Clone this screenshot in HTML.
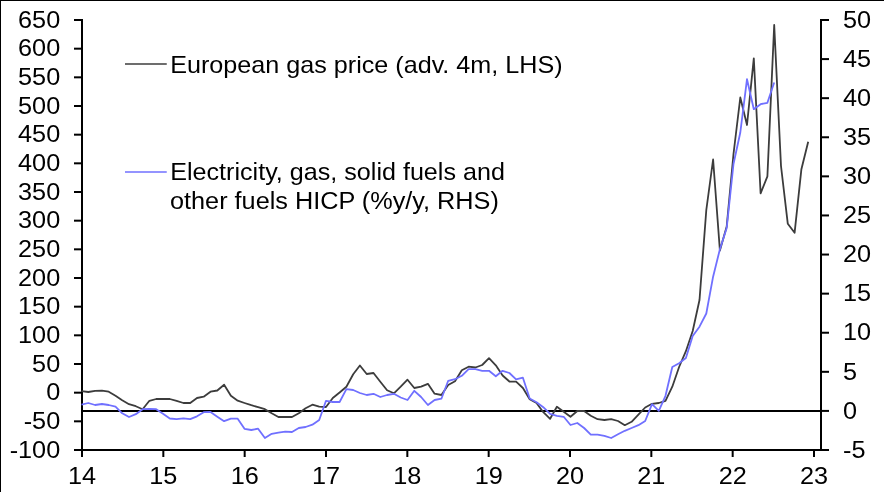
<!DOCTYPE html>
<html><head><meta charset="utf-8"><title>chart</title>
<style>
html,body{margin:0;padding:0;background:#fff;}
body{width:884px;height:492px;overflow:hidden;position:relative;}
svg{position:absolute;left:0;top:0;display:block;}
text{font-family:"Liberation Sans",sans-serif;font-size:24px;fill:#000;}
svg{will-change:transform;}
</style></head><body>
<svg width="884" height="492" viewBox="0 0 884 492">
<rect x="0" y="0" width="884" height="492" fill="#fff"/>
<rect x="0" y="0" width="884" height="1" fill="#000"/>
<rect x="0" y="0" width="1" height="492" fill="#000"/>

<g fill="#000">
<rect x="81" y="19" width="2" height="432"/>
<rect x="820" y="19" width="2" height="432"/>
<rect x="74" y="449" width="755" height="2"/>
<rect x="82" y="410" width="739" height="2"/>
<rect x="74" y="19.00" width="8" height="2"/>
<rect x="74" y="47.67" width="8" height="2"/>
<rect x="74" y="76.33" width="8" height="2"/>
<rect x="74" y="105.00" width="8" height="2"/>
<rect x="74" y="133.67" width="8" height="2"/>
<rect x="74" y="162.33" width="8" height="2"/>
<rect x="74" y="191.00" width="8" height="2"/>
<rect x="74" y="219.67" width="8" height="2"/>
<rect x="74" y="248.33" width="8" height="2"/>
<rect x="74" y="277.00" width="8" height="2"/>
<rect x="74" y="305.67" width="8" height="2"/>
<rect x="74" y="334.33" width="8" height="2"/>
<rect x="74" y="363.00" width="8" height="2"/>
<rect x="74" y="391.67" width="8" height="2"/>
<rect x="74" y="420.33" width="8" height="2"/>
<rect x="74" y="449.00" width="8" height="2"/>
<rect x="821" y="19.00" width="8" height="2"/>
<rect x="821" y="58.09" width="8" height="2"/>
<rect x="821" y="97.18" width="8" height="2"/>
<rect x="821" y="136.27" width="8" height="2"/>
<rect x="821" y="175.36" width="8" height="2"/>
<rect x="821" y="214.45" width="8" height="2"/>
<rect x="821" y="253.55" width="8" height="2"/>
<rect x="821" y="292.64" width="8" height="2"/>
<rect x="821" y="331.73" width="8" height="2"/>
<rect x="821" y="370.82" width="8" height="2"/>
<rect x="821" y="409.91" width="8" height="2"/>
<rect x="821" y="449.00" width="8" height="2"/>
<rect x="81.00" y="450" width="2" height="7"/>
<rect x="162.33" y="450" width="2" height="7"/>
<rect x="243.67" y="450" width="2" height="7"/>
<rect x="325.00" y="450" width="2" height="7"/>
<rect x="406.33" y="450" width="2" height="7"/>
<rect x="487.67" y="450" width="2" height="7"/>
<rect x="569.00" y="450" width="2" height="7"/>
<rect x="650.33" y="450" width="2" height="7"/>
<rect x="731.67" y="450" width="2" height="7"/>
<rect x="813.00" y="450" width="2" height="7"/>
</g>
<g text-anchor="end">
<text transform="translate(60.20,27.70) scale(1.053,1)">650</text>
<text transform="translate(60.20,56.37) scale(1.053,1)">600</text>
<text transform="translate(60.20,85.03) scale(1.053,1)">550</text>
<text transform="translate(60.20,113.70) scale(1.053,1)">500</text>
<text transform="translate(60.20,142.37) scale(1.053,1)">450</text>
<text transform="translate(60.20,171.03) scale(1.053,1)">400</text>
<text transform="translate(60.20,199.70) scale(1.053,1)">350</text>
<text transform="translate(60.20,228.37) scale(1.053,1)">300</text>
<text transform="translate(60.20,257.03) scale(1.053,1)">250</text>
<text transform="translate(60.20,285.70) scale(1.053,1)">200</text>
<text transform="translate(60.20,314.37) scale(1.053,1)">150</text>
<text transform="translate(60.20,343.03) scale(1.053,1)">100</text>
<text transform="translate(60.20,371.70) scale(1.053,1)">50</text>
<text transform="translate(60.20,400.37) scale(1.053,1)">0</text>
<text transform="translate(60.20,429.03) scale(1.053,1)">-50</text>
<text transform="translate(60.20,457.70) scale(1.053,1)">-100</text>
</g>
<g text-anchor="start">
<text transform="translate(843.00,27.70) scale(1.053,1)">50</text>
<text transform="translate(843.00,66.79) scale(1.053,1)">45</text>
<text transform="translate(843.00,105.88) scale(1.053,1)">40</text>
<text transform="translate(843.00,144.97) scale(1.053,1)">35</text>
<text transform="translate(843.00,184.06) scale(1.053,1)">30</text>
<text transform="translate(843.00,223.15) scale(1.053,1)">25</text>
<text transform="translate(843.00,262.25) scale(1.053,1)">20</text>
<text transform="translate(843.00,301.34) scale(1.053,1)">15</text>
<text transform="translate(843.00,340.43) scale(1.053,1)">10</text>
<text transform="translate(843.00,379.52) scale(1.053,1)">5</text>
<text transform="translate(843.00,418.61) scale(1.053,1)">0</text>
<text transform="translate(843.00,457.70) scale(1.053,1)">-5</text>
</g>
<g text-anchor="middle">
<text transform="translate(82.00,484.00) scale(1.053,1)">14</text>
<text transform="translate(163.33,484.00) scale(1.053,1)">15</text>
<text transform="translate(244.67,484.00) scale(1.053,1)">16</text>
<text transform="translate(326.00,484.00) scale(1.053,1)">17</text>
<text transform="translate(407.33,484.00) scale(1.053,1)">18</text>
<text transform="translate(488.67,484.00) scale(1.053,1)">19</text>
<text transform="translate(570.00,484.00) scale(1.053,1)">20</text>
<text transform="translate(651.33,484.00) scale(1.053,1)">21</text>
<text transform="translate(732.67,484.00) scale(1.053,1)">22</text>
<text transform="translate(814.00,484.00) scale(1.053,1)">23</text>
</g>
<polyline fill="none" stroke="#3c3c3c" stroke-width="1.8" stroke-linejoin="round" points="81.5,391.2 88.3,392.0 95.1,390.8 101.9,390.7 108.7,391.7 115.5,395.8 122.2,400.3 129.0,404.2 135.8,406.2 142.6,409.2 149.4,400.8 156.2,399.0 163.0,398.8 169.8,399.0 176.6,400.8 183.4,403.0 190.2,403.0 197.0,398.0 203.7,396.7 210.5,391.7 217.3,390.5 224.1,384.7 230.9,395.8 237.7,400.7 244.5,403.0 251.3,405.2 258.1,407.2 264.9,409.2 271.7,413.3 278.4,417.0 285.2,417.0 292.0,417.0 298.8,413.3 305.6,408.3 312.4,404.7 319.2,406.7 326.0,407.0 332.8,398.0 339.6,392.5 346.4,386.7 353.2,374.2 359.9,365.5 366.7,374.0 373.5,373.0 380.3,381.7 387.1,390.3 393.9,393.3 400.7,386.7 407.5,379.7 414.3,388.0 421.1,386.7 427.9,383.8 434.6,393.7 441.4,395.0 448.2,385.0 455.0,381.3 461.8,370.3 468.6,366.7 475.4,367.5 482.2,365.0 489.0,358.1 495.8,365.3 502.6,375.5 509.4,381.5 516.1,381.7 522.9,388.0 529.7,399.2 536.5,403.0 543.3,412.2 550.1,418.8 556.9,406.8 563.7,411.7 570.5,416.8 577.3,411.0 584.1,411.0 590.8,415.8 597.6,419.2 604.4,420.0 611.2,419.2 618.0,421.0 624.8,425.2 631.6,421.8 638.4,414.7 645.2,407.5 652.0,403.8 658.8,403.0 665.5,400.8 672.3,386.7 679.1,367.0 685.9,351.2 692.7,331.0 699.5,300.0 706.3,210.0 713.1,159.5 719.9,250.5 726.7,226.5 733.5,154.0 740.3,97.5 747.0,125.0 753.8,58.3 760.6,193.3 767.4,176.3 774.2,25.0 781.0,166.0 787.8,223.8 794.6,232.8 801.4,169.2 808.2,141.7"/>
<polyline fill="none" stroke="#7070ff" stroke-width="1.8" stroke-linejoin="round" points="81.5,404.7 88.3,403.0 95.1,405.0 101.9,404.0 108.7,405.0 115.5,406.7 122.2,413.3 129.0,417.0 135.8,414.2 142.6,409.2 149.4,408.8 156.2,409.2 163.0,413.7 169.8,418.5 176.6,419.2 183.4,418.3 190.2,419.2 197.0,416.3 203.7,412.2 210.5,412.0 217.3,416.7 224.1,421.2 230.9,418.7 237.7,418.7 244.5,428.8 251.3,430.0 258.1,428.7 264.9,438.0 271.7,433.8 278.4,432.7 285.2,431.7 292.0,432.0 298.8,428.0 305.6,427.0 312.4,424.7 319.2,420.0 326.0,400.8 332.8,402.0 339.6,402.0 346.4,389.2 353.2,390.0 359.9,393.0 366.7,395.0 373.5,393.8 380.3,397.0 387.1,395.0 393.9,393.8 400.7,397.5 407.5,400.0 414.3,390.8 421.1,397.0 427.9,405.0 434.6,400.0 441.4,398.7 448.2,380.8 455.0,379.2 461.8,375.8 468.6,369.2 475.4,369.2 482.2,370.8 489.0,370.8 495.8,376.2 502.6,370.8 509.4,373.0 516.1,379.3 522.9,377.7 529.7,398.5 536.5,402.2 543.3,407.2 550.1,413.8 556.9,415.8 563.7,416.8 570.5,425.0 577.3,423.0 584.1,428.0 590.8,434.7 597.6,434.7 604.4,435.8 611.2,438.0 618.0,434.3 624.8,430.8 631.6,428.0 638.4,425.2 645.2,421.0 652.0,404.2 658.8,410.8 665.5,395.8 672.3,367.0 679.1,363.2 685.9,358.0 692.7,336.0 699.5,326.7 706.3,313.5 713.1,276.7 719.9,249.2 726.7,228.0 733.5,164.0 740.3,132.5 747.0,79.2 753.8,109.2 760.6,104.2 767.4,102.8 774.2,82.5"/>
<line x1="125" y1="64" x2="166.75" y2="64" stroke="#3c3c3c" stroke-width="1.5"/>
<text transform="translate(170.20,72.50) scale(1.0483,1)">European gas price (adv. 4m, LHS)</text>
<line x1="125" y1="172" x2="166.75" y2="172" stroke="#7070ff" stroke-width="1.5"/>
<text transform="translate(170.20,179.50) scale(1.0475,1)">Electricity, gas, solid fuels and</text>
<text transform="translate(170.00,208.50) scale(1.053,1)">other fuels HICP (%y/y, RHS)</text>
</svg></body></html>
